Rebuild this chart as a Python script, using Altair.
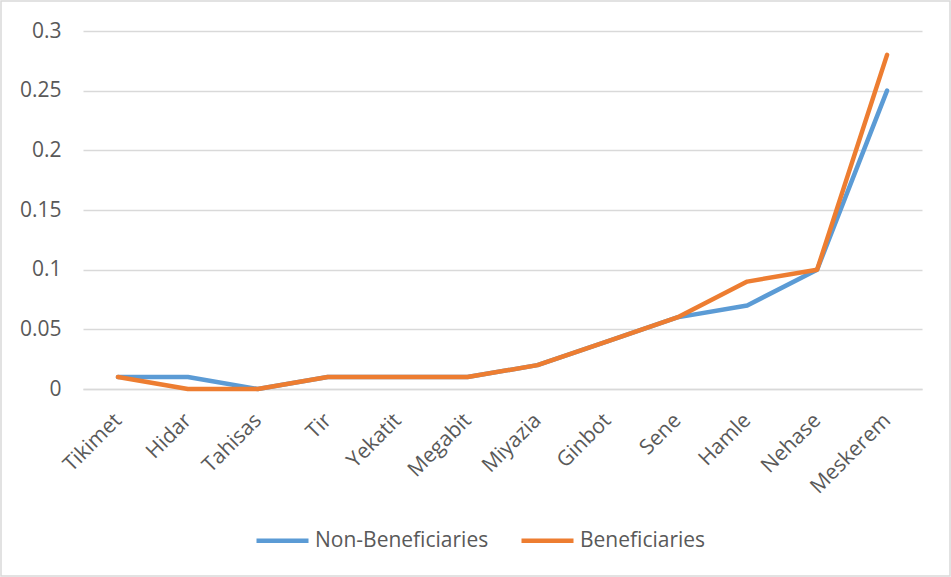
import altair as alt
import pandas as pd

months = ["Tikimet", "Hidar", "Tahisas", "Tir", "Yekatit", "Megabit",
          "Miyazia", "Ginbot", "Sene", "Hamle", "Nehase", "Meskerem"]
non_beneficiaries = [0.01, 0.01, 0.0, 0.01, 0.01, 0.01, 0.02, 0.04, 0.06, 0.07, 0.10, 0.25]
beneficiaries = [0.01, 0.0, 0.0, 0.01, 0.01, 0.01, 0.02, 0.04, 0.06, 0.09, 0.10, 0.28]
series_names = ["Non-Beneficiaries", "Beneficiaries"]
series_colors = ["#5B9BD5", "#ED7D31"]

rows = []
for i, m in enumerate(months):
    rows.append({"month": m, "series": series_names[0], "value": non_beneficiaries[i], "order": 0})
    rows.append({"month": m, "series": series_names[1], "value": beneficiaries[i], "order": 1})
df = pd.DataFrame(rows)

FONT = "Open Sans"
TXT = "#595959"
GRID = "#D9D9D9"
FS = 21

lines = alt.Chart(df).mark_line(strokeWidth=4.5, strokeCap="round", strokeJoin="round").encode(
    x=alt.X("month:N", sort=months, title=None,
            scale=alt.Scale(type="point", padding=0.5),
            axis=alt.Axis(labelAngle=-45, labelAlign="right", labelBaseline="middle",
                          labelFont=FONT, labelFontSize=FS, labelColor=TXT,
                          ticks=False, domain=True, domainColor=GRID, domainWidth=1.5,
                          labelPadding=28, grid=False)),
    y=alt.Y("value:Q", title=None,
            scale=alt.Scale(domain=[0, 0.3], nice=False),
            axis=alt.Axis(values=[0, 0.05, 0.1, 0.15, 0.2, 0.25, 0.3], format="~g",
                          labelFont=FONT, labelFontSize=FS, labelColor=TXT,
                          ticks=False, domain=False, gridColor=GRID, gridWidth=1.5,
                          labelPadding=22)),
    color=alt.Color("series:N", sort=series_names,
                    scale=alt.Scale(domain=series_names, range=series_colors),
                    legend=alt.Legend(title=None, orient="none", direction="horizontal",
                                      legendX=171, legendY=481,
                                      symbolType="stroke", symbolSize=2704, symbolStrokeWidth=4.5,
                                      labelFont=FONT, labelFontSize=FS, labelColor=TXT,
                                      labelLimit=400, labelOffset=4, columnPadding=23)),
    order=alt.Order("order:Q"),
    detail="series:N",
)

frame = alt.Chart(pd.DataFrame({"k": [0]})).mark_rect(fill=None, stroke=GRID, strokeWidth=1.5).encode(
    x=alt.value(-82), x2=alt.value(867), y=alt.value(-30), y2=alt.value(545)
)

chart = alt.layer(frame, lines).properties(
    width=839, height=358,
    padding={"left": 83, "top": 31, "right": 29, "bottom": 188},
    autosize=alt.AutoSizeParams(type="none"),
    background="white",
).configure_view(stroke=None)

chart.save("out.html", embed_options={"renderer": "svg", "actions": False})
